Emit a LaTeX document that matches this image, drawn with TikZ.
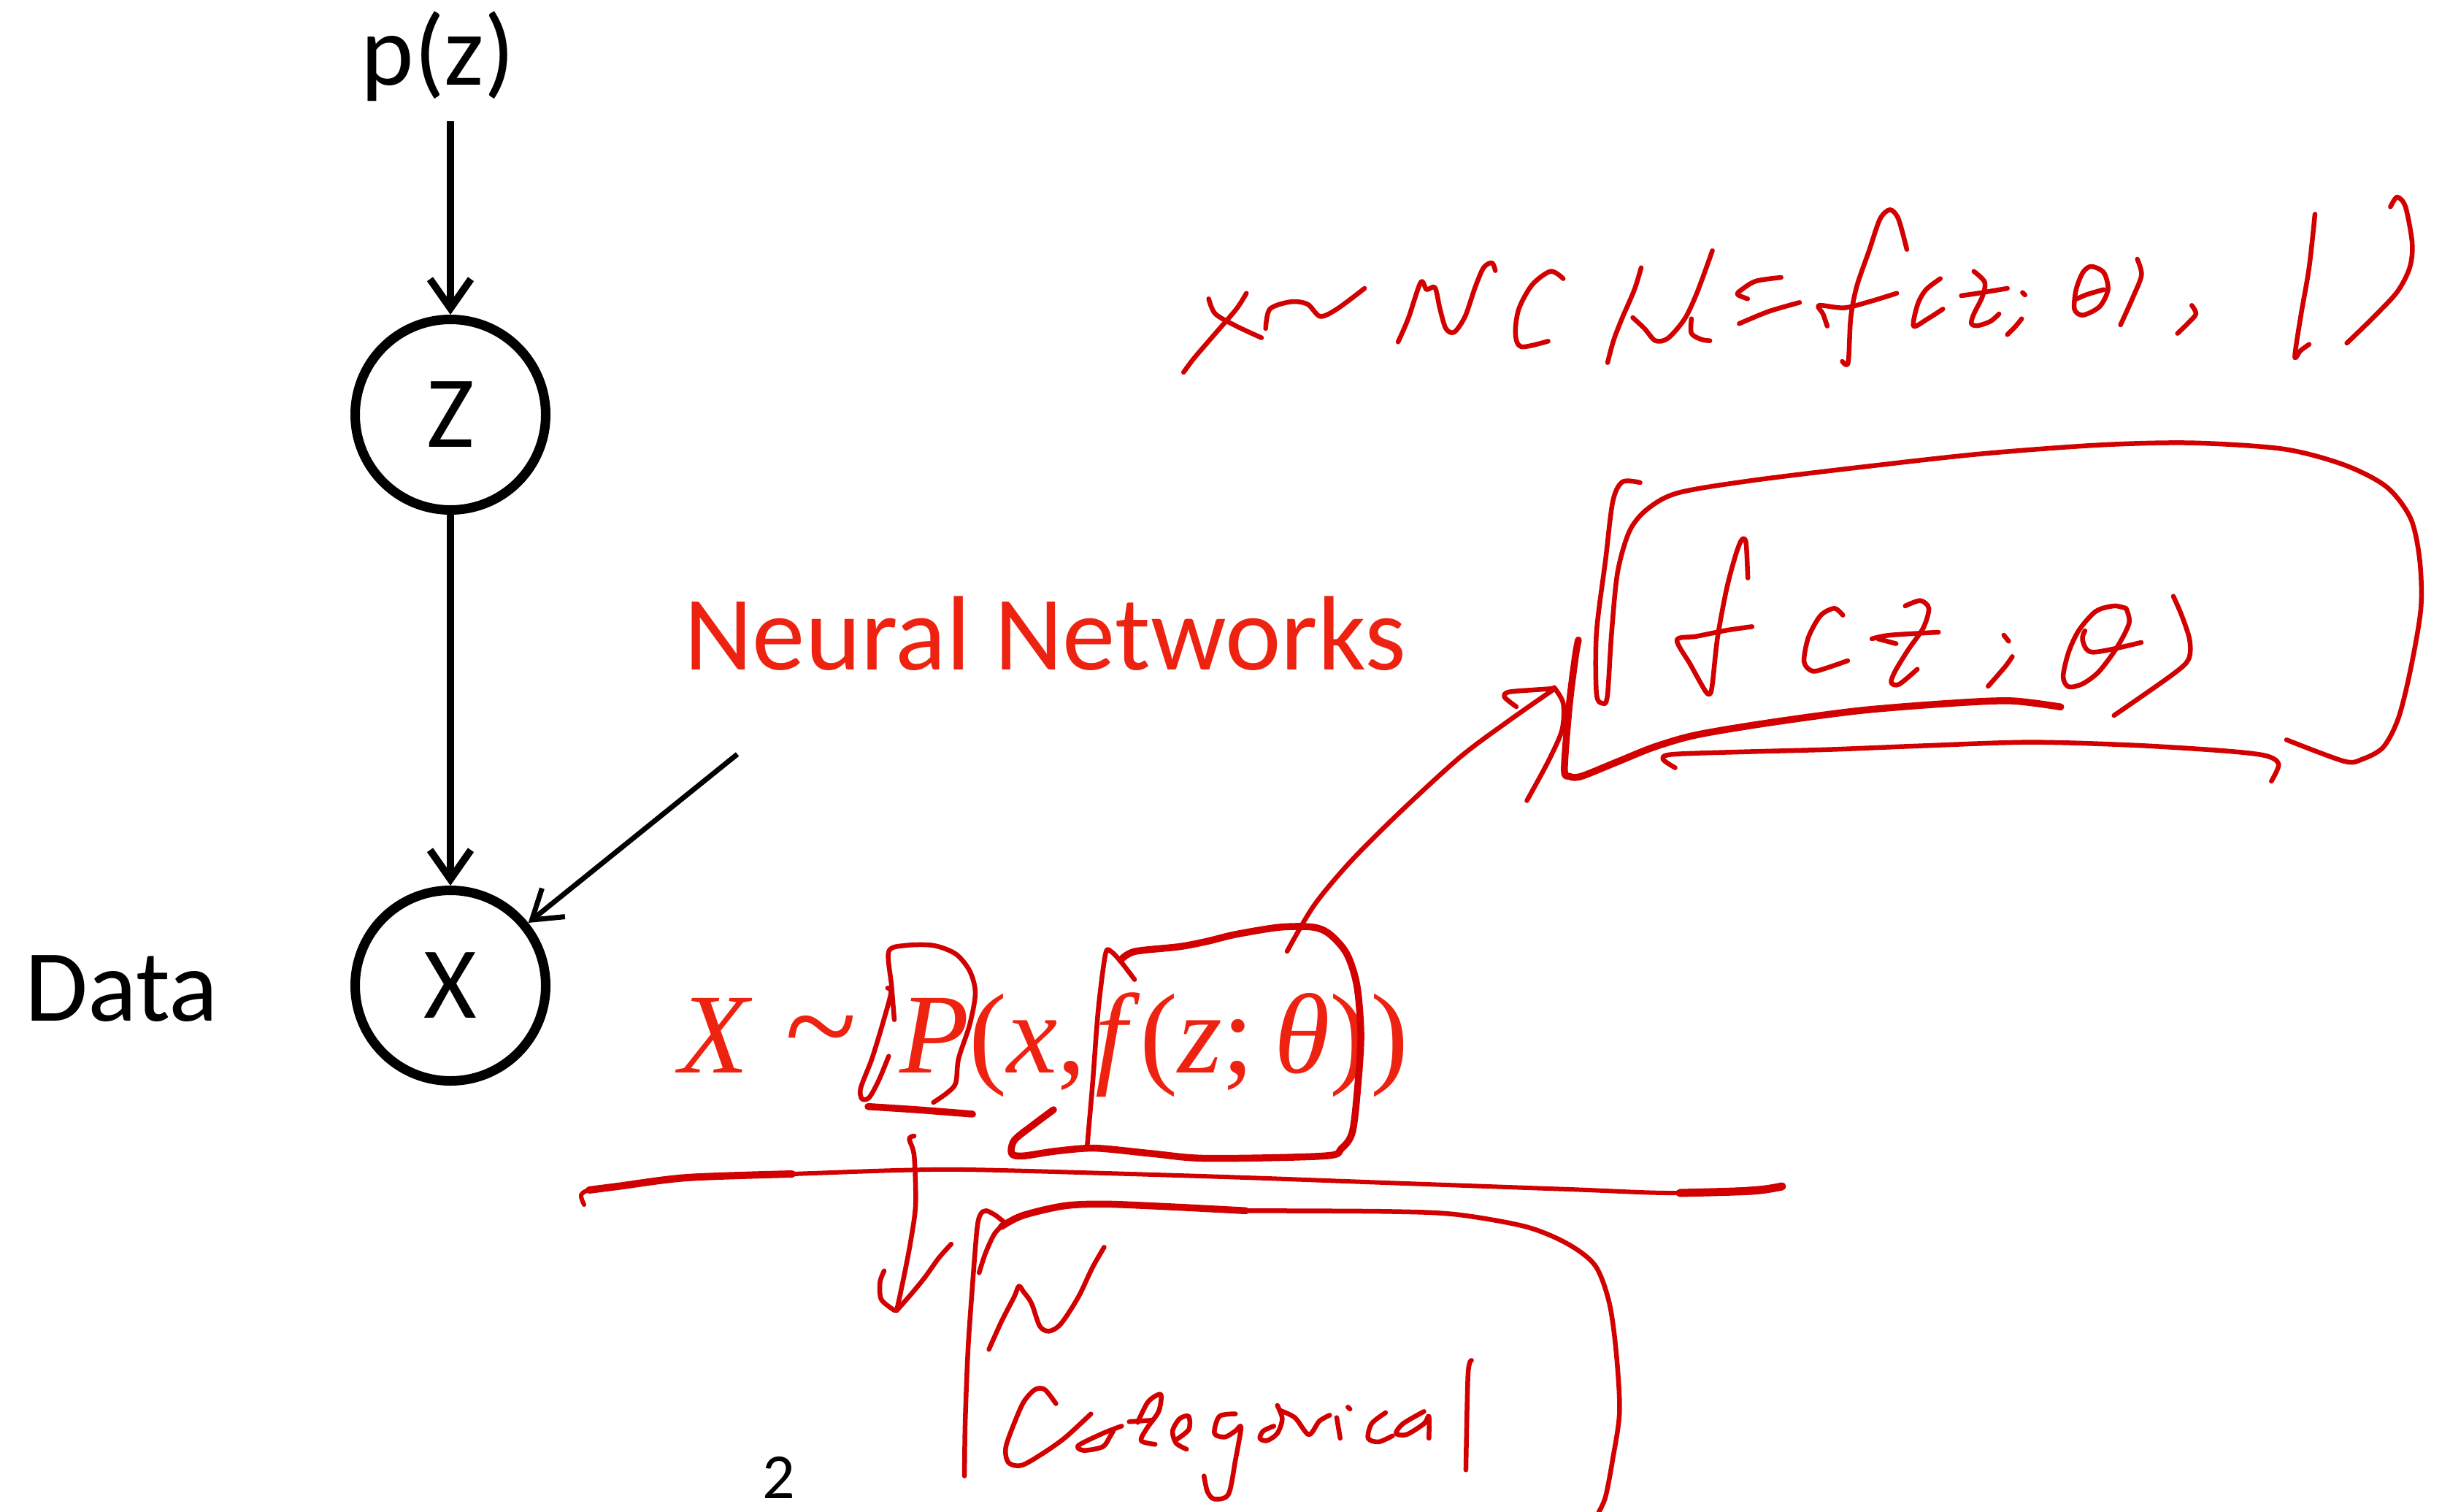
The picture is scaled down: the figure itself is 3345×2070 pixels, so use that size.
\documentclass[tikz,border=0pt]{standalone}
\usepackage{fontspec}
\setmainfont{Carlito}
\newfontfamily\tms{Liberation Serif}
\usetikzlibrary{arrows.meta}
\definecolor{ink}{RGB}{210,0,0}
\definecolor{typered}{RGB}{238,34,17}
\begin{document}
\begin{tikzpicture}[x=1pt,y=-1pt,
  hw/.style={draw=ink,line width=6.5pt,line cap=round,line join=round},
  hwthick/.style={hw,line width=9.5pt},
  pnode/.style={circle,draw=black,line width=13pt,minimum size=261pt,inner sep=0pt,font=\fontsize{140}{160}\selectfont},
  arr/.style={draw=black,line width=10pt,-{Straight Barb[length=40pt,width=56pt]}},
  lbl/.style={inner sep=0pt,font=\fontsize{138}{160}\selectfont},
  eqf/.style={anchor=base west,inner sep=0pt,text=typered,font=\tms\fontsize{156}{170}\selectfont}]
\useasboundingbox (0,0) rectangle (3345,2070);
\fill[white] (0,0) rectangle (3345,2070);

% ---------- typed diagram ----------
\node[lbl,anchor=base] (pz) at (600,116) {p(z)};
\node[pnode] (Z) at (617,568) {Z};
\node[pnode] (X) at (617,1350) {X};
\node[lbl,anchor=base west,font=\fontsize{140}{160}\selectfont] (data) at (34,1398) {Data};
\node[lbl,anchor=base west,text=typered,font=\fontsize{145}{170}\selectfont] (nn) at (937,917) {Neural Networks};
\coordinate (nnstart) at (1010,1033);
\node[inner sep=0pt,anchor=base,font=\fontsize{88}{100}\selectfont] (page) at (1067,2052) {2};

\draw[arr,shorten <=28pt] (pz.south -| Z.north) -- (Z.north);
\draw[arr] (Z) -- (X);
\draw[arr,line width=7pt,-{Straight Barb[length=38pt,width=50pt]}] (nnstart) -- (X);

% typed formula  X ~ P(x, f(z;theta))
\node[eqf] (eqX) at (930,1469) {\textit{X}};
\node[eqf,font=\tms\fontsize{182}{190}\selectfont] (eqsim) at (1075,1466) {\textasciitilde};
\node[eqf] (eqP) at (1232,1469) {\textit{P}(\textit{x},};
\node[eqf] (eqf) at (1500,1469) {\textit{f}(\textit{z};};
\node[eqf] (eqth) at (1745,1469) {\textit{θ})\kern4pt)};

% ---------- handwriting: x ~ N(mu = f(z;theta), I) ----------
\begin{scope}[shift={(1550,250)},xscale=1.148,yscale=0.3333]
\draw[hw] plot[smooth] coordinates {(92,478)(100,540)(125,590)(155,638)};
\draw[hw] plot[smooth] coordinates {(137,455)(125,520)(100,620)(75,720)(62,780)};
\draw[hw] plot[smooth] coordinates {(160,600)(165,520)(190,490)(210,500)(225,550)(245,520)(278,435)};
\draw[hw] plot[smooth] coordinates {(318,655)(330,560)(345,410)(352,440)(362,432)(368,520)(375,600)(385,615)(398,550)(410,430)(420,350)(430,330)(434,362)};
\draw[hw] plot[smooth] coordinates {(515,395)(500,365)(478,420)(462,520)(458,620)(465,675)(497,652)};
\draw[hw] plot[smooth] coordinates {(608,350)(600,440)(585,560)(575,650)(568,740)};
\draw[hw] plot[smooth] coordinates {(598,555)(612,600)(625,650)(640,640)(660,560)(675,450)(693,280)};
\draw[hw] plot[smooth] coordinates {(668,560)(668,620)(680,645)(690,650)};
\draw[hw] plot[smooth] coordinates {(775,390)(745,405)(728,440)(723,460)(735,478)};
\draw[hw] plot[smooth] coordinates {(797,493)(760,530)(725,580)};
\draw[hw] plot[smooth] coordinates {(925,275)(915,150)(905,112)(893,150)(880,280)(865,430)(858,560)(855,740)(848,735)};
\draw[hw] plot[smooth] coordinates {(830,590)(825,540)(820,505)(850,515)(880,490)(913,455)};
\draw[hw] plot[smooth] coordinates {(965,395)(948,440)(938,500)(933,590)(950,560)(968,520)};
\draw[hw] plot[smooth] coordinates {(1005,365)(1018,410)(1015,470)(1005,540)(1002,580)(1010,588)(1025,570)(1035,540)};
\draw[hw] plot[smooth] coordinates {(990,465)(1010,455)(1045,435)};
\draw[hw] (1063,452) -- (1066,462);
\draw[hw] plot[smooth] coordinates {(1062,560)(1055,590)(1045,625)};
\draw[hw] plot[smooth cycle] coordinates {(1145,345)(1160,370)(1165,440)(1155,510)(1135,545)(1125,520)(1127,440)(1135,370)};
\draw[hw] plot[smooth] coordinates {(1160,440)(1140,460)(1128,478)};
\draw[hw] plot[smooth] coordinates {(1200,315)(1205,380)(1195,470)(1180,585)};
\draw[hw] plot[smooth] coordinates {(1265,505)(1270,540)(1260,580)(1248,620)};
\draw[hw] plot[smooth] coordinates {(1412,130)(1405,350)(1395,550)(1388,715)(1395,690)(1405,665)};
\draw[hw] plot[smooth] coordinates {(1502,100)(1510,60)(1520,100)(1528,250)(1525,350)(1510,450)(1480,560)(1450,660)};
\end{scope}

% ---------- handwriting: bubble with f(z;theta) ----------
\begin{scope}[shift={(2050,600)},xscale=0.8291,yscale=0.3333]
\draw[hw] plot[smooth] coordinates {(237,183)(208,180)(192,260)(180,500)(165,800)(165,1050)(175,1090)(183,1060)(190,800)(200,550)(220,380)(250,290)(300,225)(420,175)(600,120)(800,65)(1000,28)(1150,20)(1300,45)(1400,110)(1470,200)(1510,330)(1525,500)(1527,700)(1510,950)(1490,1150)(1465,1270)(1430,1320)(1400,1328)(1305,1240)};
\draw[hwthick] plot[smooth] coordinates {(135,830)(130,900)(120,1100)(112,1360)(120,1390)(140,1390)(200,1330)(260,1270)(330,1220)(450,1170)(600,1120)(750,1090)(850,1080)(932,1105)};
\draw[hw] plot[smooth] coordinates {(95,1025)(110,1090)(108,1200)(85,1330)(50,1490)};
\draw[hw] plot[smooth] coordinates {(295,1355)(275,1320)(290,1300)(400,1290)(550,1280)(700,1265)(880,1250)(1050,1262)(1200,1285)(1270,1305)(1292,1340)(1280,1410)};
% f
\draw[hw] plot[smooth] coordinates {(415,575)(412,430)(405,418)(395,480)(380,620)(365,820)(357,1000)(353,1050)(345,1040)(320,930)(298,830)(330,815)(380,790)(422,775)};
% (
\draw[hw] plot[smooth] coordinates {(572,728)(558,700)(535,730)(515,820)(508,920)(522,958)(545,945)(580,915)};
% z
\draw[hw] plot[smooth] coordinates {(675,690)(700,668)(714,700)(705,780)(680,870)(658,960)(652,1005)(665,1012)(695,950)};
\draw[hw] plot[smooth] coordinates {(620,825)(650,810)(730,798)};
\draw[hw] (630,825) -- (660,845);
% ;
\draw[hw] (838,810) -- (846,835);
\draw[hw] plot[smooth] coordinates {(852,898)(840,940)(812,1020)};
% theta
\draw[hw] plot[smooth] coordinates {(1040,700)(1020,690)(990,712)(962,790)(945,880)(936,980)(945,1022)(968,1010)(995,960)(1025,860)(1045,760)(1040,700)};
\draw[hw] plot[smooth] coordinates {(972,792)(968,830)(985,880)(1065,840)};
% )
\draw[hw] plot[smooth] coordinates {(1118,650)(1132,730)(1145,830)(1143,910)(1115,975)(1020,1140)};
\end{scope}

% arrow from f-box to bubble
\draw[hw] plot[smooth] coordinates {(1763,1303)(1800,1240)(1850,1180)(1917,1113)(2000,1037)(2067,987)(2130,943)};
\draw[hw] plot[smooth] coordinates {(2077,968)(2061,955)(2066,948)(2100,945)(2130,943)};

% ---------- handwriting around the typed formula ----------
\begin{scope}[shift={(850,1250)},xscale=0.7653,yscale=0.3333]
\draw[hw] plot[smooth] coordinates {(490,440)(485,300)(480,160)(510,135)(560,135)(600,170)(625,240)(635,330)(625,460)(605,600)(600,700)(585,740)(560,780)};
\draw[hw] plot[smooth] coordinates {(478,310)(484,330)(470,450)(450,600)(430,720)(432,765)(445,760)(462,690)(480,590)};
\draw[hwthick] plot[smooth] coordinates {(443,797)(530,810)(630,828)};
\draw[hwthick] plot[smooth] coordinates {(775,810)(740,870)(705,935)(700,990)(720,1000)(780,980)(850,968)(950,990)(1050,1010)(1260,1000)(1290,970)(1310,900)(1320,700)(1325,500)(1318,300)(1300,170)(1270,90)(1240,60)(1180,60)(1100,90)(1050,118)(1000,140)(920,160)(895,195)};
\draw[hw] plot[smooth] coordinates {(835,965)(845,700)(855,400)(868,170)(878,160)(895,200)(920,275)};
\end{scope}

% long horizontal line
\draw[hw,line width=6pt] plot[smooth] coordinates {(800,1650)(796,1637)(807,1630)(846,1625)(941,1613)(1085,1608)(1228,1603)(1324,1602)(1515,1607)(1707,1613)(1898,1620)(2150,1629)(2301,1634)(2441,1625)};
\draw[hw,line width=10pt] plot[smooth] coordinates {(807,1630)(846,1625)(941,1613)(1085,1608)};
\draw[hw,line width=11pt] plot[smooth] coordinates {(2301,1634)(2400,1631)(2441,1625)};

% ---------- handwriting: lower box ----------
\begin{scope}[shift={(750,1550)},xscale=0.9566,yscale=0.3333]
\draw[hw] plot[smooth] coordinates {(525,18)(518,30)(525,100)(527,300)(520,450)(510,600)(500,735)};
\draw[hw] plot[smooth] coordinates {(482,572)(476,620)(478,690)(497,735)};
\draw[hw] plot[smooth] coordinates {(578,462)(560,520)(540,600)(520,670)(500,735)};
\draw[hw] plot[smooth] coordinates {(597,1415)(598,1200)(602,900)(608,650)(615,400)(620,340)(628,325)(642,345)(655,375)};
\draw[hw] plot[smooth] coordinates {(655,375)(640,420)(627,500)(618,580)};
\draw[hwthick] plot[smooth] coordinates {(650,390)(680,345)(740,305)(800,298)(900,310)(1000,325)};
\draw[hw] plot[smooth] coordinates {(1000,325)(1200,328)(1300,340)(1400,390)(1460,460)(1500,550)(1520,700)(1530,900)(1535,1150)(1525,1350)(1515,1500)(1505,1565)};
% N
\draw[hw] plot[smooth] coordinates {(632,895)(650,780)(668,680)(675,635)(682,660)(690,690)(695,720)(705,800)(718,820)(735,790)(760,680)(780,560)(797,475)};
% Categorical
\draw[hw] plot[smooth] coordinates {(728,1118)(712,1060)(698,1060)(682,1110)(668,1200)(656,1300)(660,1360)(678,1372)(705,1330)(740,1260)(778,1160)};
\draw[hw] plot[smooth] coordinates {(822,1210)(795,1240)(760,1290)(768,1310)(795,1295)(805,1255)(810,1230)};
\draw[hw] plot[smooth] coordinates {(845,1195)(860,1110)(878,1080)(875,1150)(858,1220)(850,1270)(870,1285)};
\draw[hw] (833,1192) -- (865,1186);
\draw[hw] plot[smooth] coordinates {(898,1270)(918,1225)(918,1170)(905,1180)(895,1230)(900,1280)(915,1305)};
\draw[hw] plot[smooth] coordinates {(985,1160)(962,1170)(955,1240)(970,1255)(985,1230)(993,1215)(985,1350)(975,1490)(955,1510)(945,1480)(940,1415)};
\draw[hw] plot[smooth] coordinates {(1040,1210)(1025,1230)(1020,1260)(1030,1270)(1045,1240)(1052,1180)(1045,1125)};
\draw[hw] plot[smooth] coordinates {(1048,1145)(1070,1175)(1090,1245)(1105,1190)(1120,1165)};
\draw[hw] (1130,1175) -- (1135,1260);
\draw[hw] (1146,1132) -- (1149,1140);
\draw[hw] plot[smooth] coordinates {(1200,1155)(1180,1200)(1175,1260)(1190,1275)(1210,1250)};
\draw[hw] plot[smooth] coordinates {(1255,1150)(1225,1200)(1215,1240)(1230,1245)(1255,1200)(1262,1170)(1262,1260)};
\draw[hw] plot[smooth] coordinates {(1323,940)(1318,1000)(1315,1390)};
\end{scope}
\end{tikzpicture}
\end{document}
